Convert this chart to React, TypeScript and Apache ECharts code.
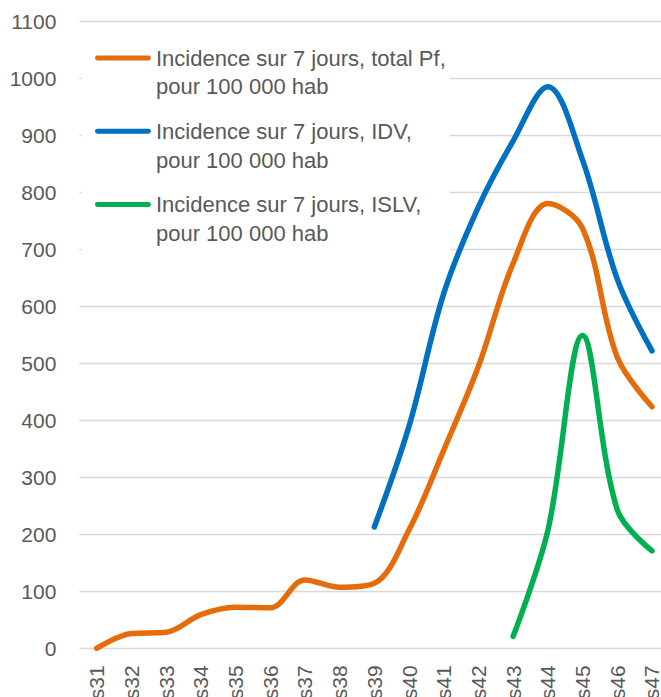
import React, { useEffect, useRef } from "react";
import * as echarts from "echarts";

const categories = ["s31", "s32", "s33", "s34", "s35", "s36", "s37", "s38", "s39", "s40", "s41", "s42", "s43", "s44", "s45", "s46", "s47"];
const totalPf = [0, 26, 28, 59, 72, 71, 120, 107, 114, 208, 348, 495, 676, 781, 737, 511, 424];
const idv = [null, null, null, null, null, null, null, null, 213, 390, 623, 775, 891, 986, 857, 648, 522];
const islv = [null, null, null, null, null, null, null, null, null, null, null, null, 21, 207, 549, 243, 171];
const seriesNames = [
  "Incidence sur 7 jours, total Pf,\npour 100 000 hab",
  "Incidence sur 7 jours, IDV,\npour 100 000 hab",
  "Incidence sur 7 jours, ISLV,\npour 100 000 hab",
];
const colors = ["#E46C0A", "#0070C0", "#00B050"];

const FONT = "'Liberation Sans', Arial, sans-serif";
const LEGEND_ICON =
  "path://M2.5,0 H53.5 A2.5,2.5 0 0 1 53.5,5 H2.5 A2.5,2.5 0 0 1 2.5,0 Z M0,34 H0.05 V34.05 H0 Z";

export default function App() {
  const ref = useRef<HTMLDivElement>(null);
  useEffect(() => {
    if (!ref.current) return;
    const chart = echarts.init(ref.current, null, { renderer: "svg" });
    const datasets = [totalPf, idv, islv];
    chart.setOption({
      animation: false,
      backgroundColor: "#ffffff",
      grid: {
        left: 79.35,
        width: 590,
        top: 21.7,
        bottom: 48.7,
        containLabel: false,
        outerBoundsMode: "none",
      },
      legend: {
        data: seriesNames,
        orient: "vertical",
        left: 82,
        top: 40,
        padding: [4, 4, 7, 13],
        backgroundColor: "#ffffff",
        itemWidth: 56,
        itemHeight: 34,
        itemGap: 16.3,
        icon: LEGEND_ICON,
        selectedMode: false,
        textStyle: { fontSize: 22, lineHeight: 28.5, color: "#595959", fontFamily: FONT },
      },
      xAxis: {
        type: "category",
        data: categories,
        boundaryGap: true,
        axisLine: { show: false },
        axisTick: { show: false },
        axisLabel: { rotate: 90, margin: 17, fontSize: 21, color: "#595959", fontFamily: FONT, interval: 0 },
        splitLine: { show: false },
      },
      yAxis: {
        type: "value",
        min: 0,
        max: 1100,
        interval: 100,
        axisLine: { show: false },
        axisTick: { show: false },
        axisLabel: {
          margin: 23,
          fontSize: 21,
          color: "#595959",
          fontFamily: FONT,
          formatter: (v: number) => String(v),
        },
        splitLine: { lineStyle: { color: "#D9D9D9", width: 1.3 } },
      },
      series: datasets.map((d, i) => ({
        name: seriesNames[i],
        type: "line",
        data: d,
        smooth: 0.35,
        showSymbol: false,
        symbol: "none",
        connectNulls: false,
        color: colors[i],
        lineStyle: { width: 5.5, color: colors[i], cap: "round", join: "round" },
        itemStyle: { color: colors[i] },
      })),
    });
    return () => chart.dispose();
  }, []);
  return (
    <div
      ref={ref}
      style={{ position: "fixed", left: 0, top: 0, width: 661, height: 697 }}
    />
  );
}
